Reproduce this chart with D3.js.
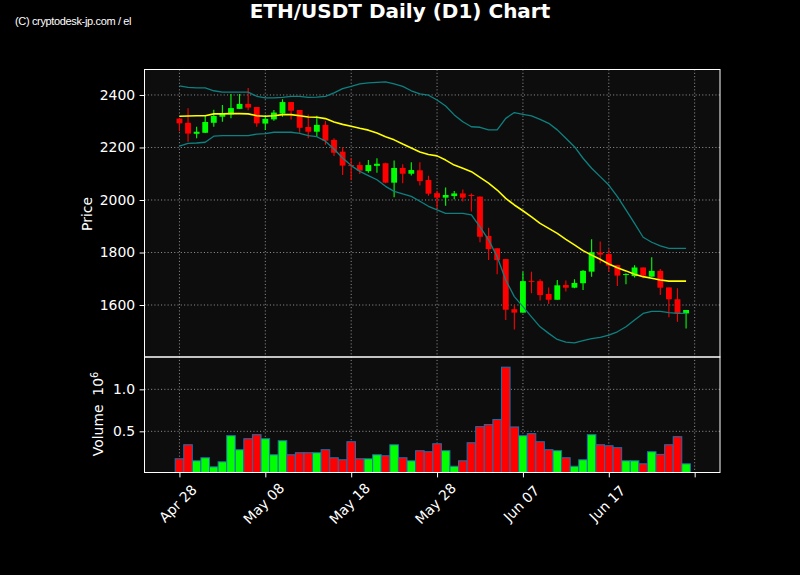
<!DOCTYPE html>
<html>
<head>
<meta charset="utf-8">
<script src="https://cdn.jsdelivr.net/npm/d3@7"></script>
<style>
  body { margin: 0; background: #000; }
  svg { display: block; }
</style>
</head>
<body>
<svg id="chart"></svg>
<script>
// daily candles, Apr 28 .. Jun 26
const dates = [
  "2023-04-28","2023-04-29","2023-04-30","2023-05-01","2023-05-02","2023-05-03","2023-05-04","2023-05-05","2023-05-06","2023-05-07",
  "2023-05-08","2023-05-09","2023-05-10","2023-05-11","2023-05-12","2023-05-13","2023-05-14","2023-05-15","2023-05-16","2023-05-17",
  "2023-05-18","2023-05-19","2023-05-20","2023-05-21","2023-05-22","2023-05-23","2023-05-24","2023-05-25","2023-05-26","2023-05-27",
  "2023-05-28","2023-05-29","2023-05-30","2023-05-31","2023-06-01","2023-06-02","2023-06-03","2023-06-04","2023-06-05","2023-06-06",
  "2023-06-07","2023-06-08","2023-06-09","2023-06-10","2023-06-11","2023-06-12","2023-06-13","2023-06-14","2023-06-15","2023-06-16",
  "2023-06-17","2023-06-18","2023-06-19","2023-06-20","2023-06-21","2023-06-22","2023-06-23","2023-06-24","2023-06-25","2023-06-26"
];
const open = [
  2310,2294,2252,2256,2294,2317,2326,2347,2366,2354,
  2291,2307,2329,2373,2343,2278,2260,2286,2229,2184,
  2133,2133,2110,2130,2140,2066,2122,2100,2113,2076,
  2026,2009,2015,2025,2019,2013,1863,1816,1775,1584,
  1571,1692,1691,1642,1620,1676,1666,1683,1727,1800,
  1794,1752,1715,1710,1743,1708,1730,1667,1622,1568
];
const high = [
  2312,2349,2279,2323,2344,2362,2404,2404,2427,2354,
  2324,2343,2384,2373,2343,2326,2321,2301,2235,2201,
  2160,2146,2152,2159,2142,2150,2136,2144,2144,2092,
  2035,2048,2034,2040,2025,2013,1894,1816,1775,1600,
  1727,1727,1698,1667,1695,1693,1698,1733,1850,1842,
  1812,1752,1721,1751,1743,1782,1737,1667,1664,1581
];
const low = [
  2262,2222,2235,2255,2279,2298,2311,2347,2342,2279,
  2267,2302,2317,2307,2256,2235,2241,2210,2168,2095,
  2075,2099,2104,2104,2064,2010,2064,2093,2055,2016,
  1966,1978,2003,1994,1956,1839,1771,1717,1543,1507,
  1571,1645,1617,1604,1620,1651,1664,1657,1708,1759,
  1727,1672,1679,1705,1702,1708,1638,1553,1536,1511
];
const close = [
  2292,2253,2260,2297,2320,2328,2350,2366,2352,2292,
  2309,2333,2373,2340,2275,2260,2286,2226,2180,2131,
  2130,2112,2133,2138,2066,2122,2100,2114,2072,2024,
  2009,2019,2025,2009,2016,1860,1813,1771,1582,1571,
  1691,1689,1638,1620,1675,1666,1684,1730,1801,1792,
  1750,1712,1718,1743,1712,1730,1666,1622,1568,1581
];
// volume in millions
const volume = [
  0.173,0.340,0.149,0.185,0.077,0.137,0.448,0.281,0.412,0.460,
  0.412,0.221,0.388,0.221,0.245,0.245,0.245,0.281,0.185,0.161,
  0.376,0.173,0.173,0.221,0.209,0.340,0.185,0.149,0.269,0.257,
  0.352,0.269,0.084,0.149,0.364,0.556,0.580,0.640,1.264,0.552,
  0.448,0.472,0.376,0.281,0.269,0.185,0.084,0.161,0.460,0.340,
  0.328,0.305,0.149,0.149,0.113,0.257,0.225,0.340,0.436,0.113
];
const sma = [
  2319,2320,2321,2321,2328,2328,2329,2329,2328,2321,
  2319,2321,2325,2325,2321,2316,2315,2310,2297,2288,
  2281,2273,2266,2255,2241,2229,2213,2198,2183,2173,
  2168,2152,2133,2121,2108,2086,2064,2038,2006,1981,
  1959,1936,1911,1892,1873,1850,1829,1807,1790,1774,
  1756,1742,1730,1717,1708,1702,1695,1691,1691,1691
];
const bbUpper = [
  2435,2429,2427,2427,2416,2411,2411,2411,2411,2395,
  2389,2389,2391,2395,2395,2391,2392,2395,2408,2424,
  2433,2442,2446,2448,2450,2442,2433,2416,2404,2399,
  2381,2358,2324,2298,2279,2277,2267,2267,2311,2333,
  2326,2320,2307,2292,2267,2235,2203,2159,2121,2089,
  2057,2013,1962,1911,1858,1839,1825,1816,1816,1816
];
const bbLower = [
  2205,2216,2217,2220,2243,2245,2245,2245,2245,2251,
  2253,2258,2258,2258,2254,2245,2241,2224,2194,2160,
  2131,2109,2093,2077,2052,2033,2023,2014,1995,1976,
  1962,1949,1949,1949,1943,1898,1848,1784,1695,1632,
  1594,1555,1517,1492,1469,1459,1456,1464,1472,1477,
  1485,1498,1517,1543,1568,1576,1576,1571,1568,1568
];

const priceTicks = [1600, 1800, 2000, 2200, 2400];
const volumeTicks = [0.5, 1.0];
const xTickDates = ["2023-04-28","2023-05-08","2023-05-18","2023-05-28","2023-06-07","2023-06-17","2023-06-27"];
const xTickLabels = ["Apr 28","May 08","May 18","May 28","Jun 07","Jun 17",""];

var width = 800, height = 575,
    left = 144.5, right = 720,
    priceTop = 69.5, priceBottom = 357, volBottom = 472.5,
    DAY = 864e5,
    font = "DejaVu Sans",
    up = "#00ff00", down = "#ff0000",
    parse = d3.timeParse("%Y-%m-%d");

var rows = dates.map(function(d, i) {
    return {date: parse(d), o: open[i], h: high[i], l: low[i], c: close[i], v: volume[i],
            ma: sma[i], up: bbUpper[i], lo: bbLower[i]};
});
var first = rows[0].date;

var x = d3.scaleTime()
    .domain([new Date(+first - 4.07 * DAY), new Date(+first + 62.95 * DAY)])
    .range([left, right]);
var yP = d3.scaleLinear().domain([1402, 2497]).range([priceBottom, priceTop]);
var yV = d3.scaleLinear().domain([0, 1.385]).range([473.3, priceBottom]);
var dayW = x(new Date(+first + DAY)) - x(first);

var svg = d3.select("#chart").attr("width", width).attr("height", height);
svg.append("rect").attr("width", width).attr("height", height).attr("fill", "#000");

var defs = svg.append("defs");
defs.append("clipPath").attr("id", "clipP").append("rect")
    .attr("x", left).attr("y", priceTop).attr("width", right - left).attr("height", priceBottom - priceTop);
defs.append("clipPath").attr("id", "clipV").append("rect")
    .attr("x", left).attr("y", priceBottom).attr("width", right - left).attr("height", volBottom - priceBottom);

// panel backgrounds
svg.append("rect").attr("x", left).attr("y", priceTop).attr("width", right - left)
    .attr("height", volBottom - priceTop).attr("fill", "#0d0d0d");

// grid
var grid = svg.append("g").attr("stroke", "#9a9a9a").attr("stroke-width", 0.9)
    .attr("stroke-dasharray", "1.1,2.2");
xTickDates.map(parse).forEach(function(d) {
    grid.append("line").attr("x1", x(d)).attr("x2", x(d)).attr("y1", priceTop).attr("y2", volBottom);
});
priceTicks.forEach(function(p) {
    grid.append("line").attr("x1", left).attr("x2", right).attr("y1", yP(p)).attr("y2", yP(p));
});
volumeTicks.forEach(function(v) {
    grid.append("line").attr("x1", left).attr("x2", right).attr("y1", yV(v)).attr("y2", yV(v));
});

// candles
var pg = svg.append("g").attr("clip-path", "url(#clipP)");
var candle = pg.selectAll("g.candle").data(rows).enter().append("g").attr("class", "candle");
candle.append("line")
    .attr("x1", function(d) { return x(d.date); })
    .attr("x2", function(d) { return x(d.date); })
    .attr("y1", function(d) { return yP(d.h); })
    .attr("y2", function(d) { return yP(d.l); })
    .attr("stroke", function(d) { return d.c >= d.o ? up : down; })
    .attr("stroke-width", 1.1);
candle.append("rect")
    .attr("x", function(d) { return x(d.date) - dayW * 0.34; })
    .attr("width", dayW * 0.68)
    .attr("y", function(d) { return yP(Math.max(d.o, d.c)); })
    .attr("height", function(d) { return Math.max(1, Math.abs(yP(d.o) - yP(d.c))); })
    .attr("fill", function(d) { return d.c >= d.o ? up : down; });

// moving average and bands
function lineOf(key) {
    return d3.line().x(function(d) { return x(d.date); }).y(function(d) { return yP(d[key]); });
}
[["up", "#0e8080", 1.3], ["lo", "#0e8080", 1.3], ["ma", "#ffff00", 1.6]].forEach(function(s) {
    pg.append("path").datum(rows).attr("d", lineOf(s[0]))
        .attr("fill", "none").attr("stroke", s[1]).attr("stroke-width", s[2])
        .attr("stroke-linejoin", "round");
});

// volume
svg.append("g").attr("clip-path", "url(#clipV)")
    .selectAll("rect").data(rows).enter().append("rect")
    .attr("x", function(d) { return x(d.date) - dayW / 2; })
    .attr("width", dayW)
    .attr("y", function(d) { return yV(d.v); })
    .attr("height", function(d) { return yV(0) - yV(d.v); })
    .attr("fill", function(d) { return d.c >= d.o ? up : down; })
    .attr("stroke", "#1f6fb0").attr("stroke-width", 1);

// frames
var frame = svg.append("g").attr("fill", "none").attr("stroke", "#fff").attr("stroke-width", 1);
frame.append("rect").attr("x", left).attr("y", priceTop).attr("width", right - left).attr("height", priceBottom - priceTop);
frame.append("rect").attr("x", left).attr("y", priceBottom).attr("width", right - left).attr("height", volBottom - priceBottom);

// axes
function styleAxis(g) {
    g.select(".domain").remove();
    g.selectAll(".tick line").attr("stroke", "#fff").attr("stroke-width", 1);
    g.selectAll(".tick text").attr("fill", "#fff").style("font-family", font).style("font-size", "13.9px");
}
svg.append("g").attr("transform", "translate(" + left + ",0)")
    .call(d3.axisLeft(yP).tickValues(priceTicks).tickFormat(d3.format("d")).tickSize(4.9).tickPadding(4.5))
    .call(styleAxis);
svg.append("g").attr("transform", "translate(" + left + ",0)")
    .call(d3.axisLeft(yV).tickValues(volumeTicks).tickFormat(d3.format(".1f")).tickSize(4.9).tickPadding(4.5))
    .call(styleAxis);
var xg = svg.append("g").attr("transform", "translate(0," + volBottom + ")")
    .call(d3.axisBottom(x).tickValues(xTickDates.map(parse))
        .tickFormat(function(d, i) { return xTickLabels[i]; }).tickSize(4.9))
    .call(styleAxis);
xg.selectAll(".tick text")
    .attr("y", 0).attr("dy", "0.35em").attr("text-anchor", "middle")
    .attr("transform", "translate(-2,31) rotate(-45)");

// labels
svg.append("text").attr("transform", "translate(92,214) rotate(-90)")
    .attr("text-anchor", "middle").attr("fill", "#fff")
    .style("font-family", font).style("font-size", "13.9px").text("Price");
var vl = svg.append("text").attr("transform", "translate(102.5,414) rotate(-90)")
    .attr("text-anchor", "middle").attr("fill", "#fff")
    .style("font-family", font).style("font-size", "13.9px");
vl.append("tspan").text("Volume\u00a0\u00a010");
vl.append("tspan").attr("dy", "-0.45em").style("font-size", "9.7px").text("6");

svg.append("text").attr("x", 400).attr("y", 18).attr("text-anchor", "middle")
    .attr("fill", "#fff").style("font-family", font).style("font-weight", "bold")
    .style("font-size", "20px").text("ETH/USDT Daily (D1) Chart");
svg.append("text").attr("x", 15).attr("y", 25).attr("fill", "#fff")
    .style("font-family", "Liberation Sans").style("font-size", "11px")
    .style("letter-spacing", "-0.35px").text("(C) cryptodesk-jp.com / el");
</script>
</body>
</html>
